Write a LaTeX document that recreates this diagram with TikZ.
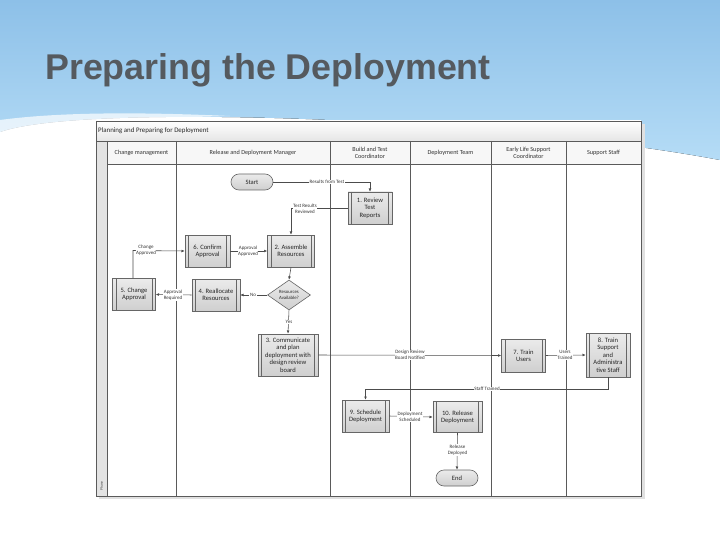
\documentclass[tikz,border=0pt]{standalone}
\usepackage{fontspec}
\setmainfont{Liberation Sans}
\newfontfamily\diafont{Carlito}
\usetikzlibrary{arrows.meta,shapes.geometric,calc}
\definecolor{skytop}{HTML}{8DC0E8}
\definecolor{skybot}{HTML}{B5DCF6}
\definecolor{titlegray}{HTML}{555A5F}
\definecolor{lanegray}{HTML}{5A5A5A}
\definecolor{boxedge}{HTML}{666666}
\definecolor{boxtop}{HTML}{EBEBEB}
\definecolor{boxbot}{HTML}{CFCFCF}
\tikzset{
  lane/.style={draw=lanegray, line width=0.7pt},
  proc/.style={draw=boxedge, line width=0.6pt, top color=boxtop, bottom color=boxbot,
    align=center, font=\diafont\fontsize{6.6}{7.4}\selectfont, text=black!85, inner sep=1pt,
    path picture={
      \draw[boxedge, line width=0.6pt] ([xshift=3.5pt]path picture bounding box.north west) -- ([xshift=3.5pt]path picture bounding box.south west);
      \draw[boxedge, line width=0.6pt] ([xshift=-3.5pt]path picture bounding box.north east) -- ([xshift=-3.5pt]path picture bounding box.south east);
    }},
  term/.style={draw=boxedge, line width=0.6pt, rounded corners=8pt, top color=boxtop, bottom color=boxbot,
    minimum width=42pt, minimum height=16pt, font=\diafont\fontsize{6.6}{7.4}\selectfont, text=black!85},
  dec/.style={diamond, draw=boxedge, line width=0.6pt, top color=boxtop, bottom color=boxbot, aspect=1.5,
    minimum width=43pt, minimum height=30pt, inner sep=0pt, align=center,
    font=\diafont\fontsize{4.8}{5.3}\selectfont, text=black!85},
  elabel/.style={fill=white, inner sep=0.6pt, align=center, font=\diafont\fontsize{5}{5.6}\selectfont, text=black!80},
  hdr/.style={align=center, font=\diafont\fontsize{6.2}{7}\selectfont, text=black!80},
  conn/.style={draw=black!70, line width=0.55pt},
  arr/.style={conn, -{Latex[length=3.2pt,width=2.8pt]}},
}
\begin{document}
\begin{tikzpicture}[x=1pt,y=-1pt]
\useasboundingbox (0,0) rectangle (720,540);
% slide background
\fill[white] (0,0) rectangle (720,540);
\fill[top color=skytop, bottom color=skybot] (0,0) -- (720,0) -- (720,160)
  .. controls (560,130) and (300,112) .. (120,118) .. controls (60,120) and (20,125) .. (0,132) -- cycle;
\fill[white, opacity=0.7] (0,120) .. controls (60,112) and (140,112) .. (230,116)
  .. controls (140,118) and (60,124) .. (0,138) -- cycle;
\node[anchor=base west, font=\bfseries\fontsize{35.8}{40}\selectfont, text=titlegray, inner sep=0pt] (title) at (45,80) {Preparing the Deployment};
% frame and shadow
\fill[black!12] (99,124) rectangle (645,499);
\fill[white] (96,121) rectangle (641,496);
\fill[top color=white, bottom color=black!10] (96,121) rectangle (641,141);
\fill[black!3] (107,141) rectangle (641,164);
\fill[black!11] (96,141) rectangle (107,496);
\draw[lane] (96,121) rectangle (641,496);
\draw[lane] (96,141) -- (641,141);
\draw[lane] (107,164) -- (641,164);
\draw[lane] (107,141) -- (107,496);
\foreach \xx in {176,330,410,491,566} \draw[lane] (\xx,141) -- (\xx,496);
\node[anchor=west, font=\diafont\fontsize{6.9}{8}\selectfont, text=black!85, inner sep=0pt] (pool) at (98,131) {Planning and Preparing for Deployment};
\node[rotate=90, font=\diafont\fontsize{3.8}{4}\selectfont, text=black!70, inner sep=0pt] (phase) at (101.5,486) {Phase};
% headers
\node[hdr] (h1) at (141.5,152.5) {Change management};
\node[hdr] (h2) at (253,152.5) {Release and Deployment Manager};
\node[hdr] (h3) at (370,152.5) {Build and Test\\Coordinator};
\node[hdr] (h4) at (450.5,152.5) {Deployment Team};
\node[hdr] (h5) at (528.5,152.5) {Early Life Support\\Coordinator};
\node[hdr] (h6) at (603.5,152.5) {Support Staff};
% nodes
\node[term] (start) at (252,182) {Start};
\node[proc, minimum width=44pt, minimum height=32pt] (n1) at (370,208) {1. Review\\Test\\Reports};
\node[proc, minimum width=47pt, minimum height=32pt] (n2) at (291,251) {2. Assemble\\Resources};
\node[proc, minimum width=45pt, minimum height=32pt] (n6) at (207.5,251) {6. Confirm\\Approval};
\node[dec] (d1) at (289,295) {Resources\\Available?};
\node[proc, minimum width=48pt, minimum height=32pt] (n4) at (216,295) {4. Reallocate\\Resources};
\node[proc, minimum width=43pt, minimum height=32pt] (n5) at (134,294.5) {5. Change\\Approval};
\node[proc, minimum width=60pt, minimum height=42pt, inner sep=0.5pt] (n3) at (288,355) {3. Communicate\\and plan\\deployment with\\design review\\board};
\node[proc, minimum width=44pt, minimum height=33pt] (n7) at (523.5,355.5) {7. Train\\Users};
\node[proc, minimum width=44pt, minimum height=44pt, inner sep=0.5pt] (n8) at (608,355) {8. Train\\Support\\and\\Administra\\tive Staff};
\node[proc, minimum width=47pt, minimum height=32pt] (n9) at (365.5,416) {9. Schedule\\Deployment};
\node[proc, minimum width=49pt, minimum height=31pt] (n10) at (457.5,417) {10. Release\\Deployment};
\node[term] (end) at (457,478) {End};
% connectors
\coordinate (c1) at (370,182);
\draw[arr] (start.east) -- (c1) -- (n1.north);
\node[elabel] (l1) at (327,182) {Results from Test};
\coordinate (c2) at (291,208);
\draw[arr] (n1.west) -- (c2) -- (n2.north);
\node[elabel] (l2) at (305,209) {Test Results\\Reviewed};
\draw[arr] (n6.east) -- (n2.west);
\node[elabel] (l3) at (248,251) {Approval\\Approved};
\draw[arr] (n2.south) -- (d1.north);
\draw[arr] (d1.west) -- (n4.east);
\node[elabel] (l4) at (253,295) {No};
\draw[arr] (n4.west) -- (n5.east);
\node[elabel] (l5) at (173,295) {Approval\\Required};
\coordinate (c3) at (133,250.5);
\draw[arr] (n5.north -| c3) -- (c3) -- (n6.west);
\node[elabel] (l6) at (146,250) {Change\\Approved};
\draw[arr] (d1.south) -- (n3.north);
\node[elabel] (l7) at (289,322) {Yes};
\draw[arr] (n3.east) -- (n7.west);
\node[elabel] (l8) at (410,355) {Design Review\\Board Notified};
\draw[arr] (n7.east) -- (n8.west);
\node[elabel] (l9) at (565,355) {Users\\Trained};
\coordinate (c4) at (608,389);
\coordinate (c5) at (365.5,389);
\draw[arr] (n8.south) -- (c4) -- (c5) -- (n9.north);
\node[elabel] (l10) at (487,389) {Staff Trained};
\draw[arr] (n9.east) -- (n10.west);
\node[elabel] (l11) at (410,416.5) {Deployment\\Scheduled};
\draw[arr] (n10.south) -- (end.north);
\node[elabel] (l12) at (457.5,450) {Release\\Deployed};
\end{tikzpicture}
\end{document}
